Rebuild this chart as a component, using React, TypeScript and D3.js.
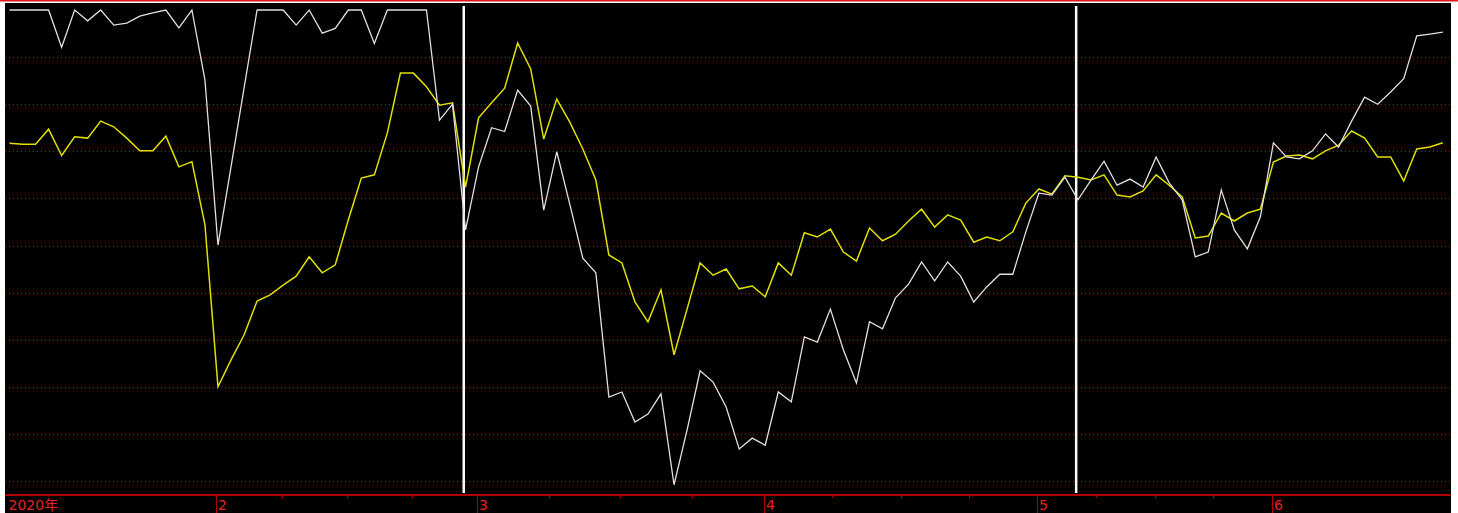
import React from "react";
import * as d3 from "d3";

// ---- data ----
const whiteSeries: number[] = [
  100, 100, 100, 100, 92.1, 100, 97.7, 100, 96.8, 97.2,
  98.7, 99.4, 100, 96.2, 100, 85.1, 50.1, 66.7, 83.4, 100,
  100, 100, 96.8, 100, 95.1, 96.1, 100, 100, 92.9, 100,
  100, 100, 100, 76.6, 80.0, 53.3, 66.7, 75.0, 74.2, 83.0,
  79.6, 57.5, 69.9, 58.8, 47.3, 44.2, 17.8, 18.9, 12.5, 14.2,
  18.5, -0.8, 10.8, 23.4, 21.0, 15.7, 6.8, 9.1, 7.6, 18.9,
  16.8, 30.6, 29.5, 36.5, 27.8, 20.8, 33.8, 32.3, 38.9, 41.8,
  46.5, 42.5, 46.5, 43.5, 38.0, 41.2, 43.9, 43.9, 52.9, 61.1,
  60.7, 64.5, 59.7, 63.9, 67.9, 62.8, 64.1, 62.4, 68.8, 63.3,
  59.7, 47.6, 48.6, 61.8, 53.3, 49.3, 56.1, 71.8, 68.8, 68.4,
  70.1, 73.7, 70.9, 76.4, 81.5, 80.0, 82.6, 85.4, 94.5, 94.9,
  95.3,
];

const yellowSeries: number[] = [
  71.7, 71.5, 71.5, 74.7, 69.1, 73.1, 72.8, 76.4, 75.2, 72.8,
  70.1, 70.1, 73.2, 66.7, 67.8, 54.4, 20.0, 25.7, 31.0, 38.2,
  39.5, 41.6, 43.5, 47.6, 44.2, 45.9, 55.4, 64.3, 65.0, 73.9,
  86.6, 86.6, 83.7, 79.8, 80.3, 62.4, 77.1, 80.3, 83.4, 93.0,
  87.5, 72.6, 81.1, 76.2, 70.5, 63.9, 48.0, 46.3, 38.0, 33.8,
  40.6, 26.8, 36.5, 46.3, 43.7, 45.0, 40.8, 41.4, 39.1, 46.3,
  43.7, 52.7, 51.8, 53.5, 48.6, 46.7, 53.7, 51.0, 52.4, 55.2,
  57.7, 53.9, 56.5, 55.4, 50.7, 51.8, 51.0, 52.9, 59.0, 62.0,
  60.9, 64.8, 64.5, 63.9, 65.0, 60.7, 60.3, 61.6, 65.0, 62.8,
  60.3, 51.6, 52.0, 56.9, 55.2, 56.9, 57.7, 67.7, 69.0, 69.2,
  68.4, 70.1, 71.3, 74.3, 72.8, 68.8, 68.8, 63.7, 70.5, 70.9,
  71.8,
];

// index of first trading day of each month, and its label
const monthStartIndex: number[] = [0, 16, 36, 58, 79, 97];
const monthLabels: string[] = ["2020年", "2", "3", "4", "5", "6"];
// vertical marker lines (indices)
const markerIndex: number[] = [35, 82];
// horizontal grid levels
const gridLevels: number[] = [0, 10, 20, 30, 40, 50, 60, 70, 80, 90];

const W = 1458;
const H = 513;

export default function App() {
  const n = whiteSeries.length;
  const x = d3.scaleLinear().domain([0, n - 1]).range([9.5, 9.5 + 13.03 * (n - 1)]);
  const y = d3.scaleLinear().domain([0, 100]).range([481, 10]);

  const line = d3
    .line<number>()
    .x((_, i) => x(i))
    .y((d) => y(d));

  const axisY = 494;
  const plotLeft = 5;
  const plotRight = 1451;

  // quarter ticks between month separators (Feb..May)
  const ticks: number[] = [];
  for (let m = 1; m < monthStartIndex.length - 1; m++) {
    const a = x(monthStartIndex[m]);
    const b = x(monthStartIndex[m + 1]);
    for (let k = 1; k < 4; k++) ticks.push(a + ((b - a) * k) / 4 - 1.5);
  }

  return (
    <svg
      width={W}
      height={H}
      style={{ position: "absolute", left: 0, top: 0, display: "block" }}
    >
      <rect x={0} y={0} width={W} height={H} fill="#ffffff" />
      <rect x={0} y={0} width={W} height={1.5} fill="#e01818" />
      <rect x={plotLeft} y={3} width={plotRight - plotLeft} height={H - 3} fill="#000000" />

      {/* grid */}
      {gridLevels.map((g) => (
        <line
          key={g}
          x1={plotLeft}
          x2={plotRight}
          y1={Math.round(y(g)) + 0.5}
          y2={Math.round(y(g)) + 0.5}
          stroke="#c00000"
          strokeWidth={1}
          strokeDasharray="1,3"
          shapeRendering="crispEdges"
        />
      ))}

      {/* axis line */}
      <line
        x1={plotLeft}
        x2={plotRight}
        y1={axisY + 0.5}
        y2={axisY + 0.5}
        stroke="#b00000"
        strokeWidth={2}
        shapeRendering="crispEdges"
      />
      {ticks.map((t, i) => (
        <line
          key={"t" + i}
          x1={Math.round(t) + 0.5}
          x2={Math.round(t) + 0.5}
          y1={axisY}
          y2={axisY + 4}
          stroke="#b00000"
          strokeWidth={1}
          shapeRendering="crispEdges"
        />
      ))}
      {monthStartIndex.map((mi, k) => {
        const px = Math.round(x(mi) - 1.5) + 0.5;
        return (
          <g key={"m" + k}>
            {k > 0 && (
              <line
                x1={px}
                x2={px}
                y1={axisY}
                y2={H}
                stroke="#b00000"
                strokeWidth={1}
                shapeRendering="crispEdges"
              />
            )}
            <text
              x={k === 0 ? 8.5 : px + 1.5}
              y={510}
              fill="#e82020"
              fontSize={14}
              fontFamily="'DejaVu Sans', 'Noto Sans CJK SC', sans-serif"
            >
              {monthLabels[k]}
            </text>
          </g>
        );
      })}

      {/* vertical markers */}
      {markerIndex.map((mi) => (
        <line
          key={"v" + mi}
          x1={x(mi) - 1.8}
          x2={x(mi) - 1.8}
          y1={6}
          y2={axisY - 1}
          stroke="#ffffff"
          strokeWidth={2.5}
        />
      ))}

      {/* series */}
      <path d={line(yellowSeries) || ""} fill="none" stroke="#e0e000" strokeWidth={1.5} />
      <path d={line(whiteSeries) || ""} fill="none" stroke="#e0e0e0" strokeWidth={1.3} />
    </svg>
  );
}
